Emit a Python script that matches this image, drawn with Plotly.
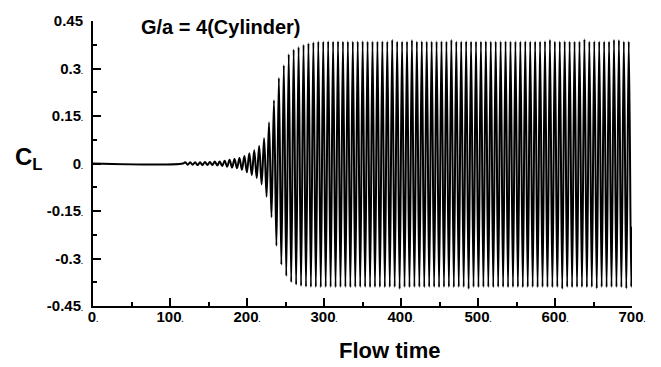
import numpy as np
import plotly.graph_objects as go

# ---------------- data ----------------
# Lift coefficient C_L: flat start, then successive extrema of the oscillation
flat_t = [0.0, 116.6]      # quiet start of the record
flat_cl = [0.0, 0.0]
EXTREMA_START = 119.8      # time of first visible extremum
HALF_PERIOD = 3.2
extrema_cl = [
    0.004, -0.004, 0.004, -0.004, 0.004, -0.005, 0.004, -0.005, 0.005, -0.005,
    0.005, -0.005, 0.006, -0.006, 0.006, -0.008, 0.009, -0.010, 0.012, -0.013,
    0.014, -0.015, 0.017, -0.020, 0.024, -0.028, 0.032, -0.037, 0.042, -0.046,
    0.055, -0.066, 0.080, -0.105, 0.130, -0.170, 0.200, -0.260, 0.270, -0.320,
    0.310, -0.355, 0.345, -0.375, 0.360, -0.383, 0.368, -0.387, 0.375, -0.389,
    0.380, -0.390, 0.383, -0.390, 0.385, -0.391, 0.385, -0.390, 0.386, -0.390,
    0.385, -0.391, 0.386, -0.390, 0.385, -0.390, 0.385, -0.391, 0.385, -0.390,
    0.385, -0.390, 0.386, -0.390, 0.385, -0.391, 0.385, -0.390, 0.385, -0.390,
    0.386, -0.391, 0.385, -0.390, 0.391, -0.390, 0.385, -0.396, 0.385, -0.390,
    0.385, -0.391, 0.390, -0.390, 0.385, -0.390, 0.386, -0.391, 0.385, -0.390,
    0.385, -0.390, 0.385, -0.391, 0.386, -0.390, 0.385, -0.390, 0.391, -0.391,
    0.385, -0.390, 0.385, -0.390, 0.386, -0.396, 0.385, -0.390, 0.385, -0.391,
    0.385, -0.390, 0.386, -0.390, 0.385, -0.391, 0.385, -0.390, 0.385, -0.390,
    0.386, -0.391, 0.385, -0.390, 0.385, -0.390, 0.385, -0.391, 0.386, -0.390,
    0.385, -0.390, 0.385, -0.391, 0.385, -0.390, 0.386, -0.390, 0.391, -0.391,
    0.385, -0.390, 0.385, -0.396, 0.386, -0.390, 0.385, -0.391, 0.385, -0.390,
    0.385, -0.390, 0.392, -0.391, 0.385, -0.390, 0.386, -0.395, 0.385, -0.390,
    0.385, -0.391, 0.385, -0.390, 0.391, -0.390, 0.390, -0.391, 0.385, -0.395,
    0.385, -0.390,
]
end_t, end_cl = 700.0, -0.20

x_tick_values = [0, 100, 200, 300, 400, 500, 600, 700]
x_tick_labels = ["0", "100", "200", "300", "400", "500", "600", "700"]
y_tick_values = [-0.45, -0.3, -0.15, 0, 0.15, 0.3, 0.45]
y_tick_labels = ["-0.45", "-0.3", "-0.15", "0", "0.15", "0.3", "0.45"]

title_text = "G/a = 4(Cylinder)"
x_title = "Flow time"
y_title = "C<sub>L</sub>"

# ---------------- build series ----------------
extrema_t = EXTREMA_START + HALF_PERIOD * np.arange(len(extrema_cl))
t = np.concatenate([flat_t, extrema_t, [end_t]])
cl = np.concatenate([flat_cl, extrema_cl, [end_cl]])

FONT = "Arial, Liberation Sans, Helvetica, sans-serif"
dot = '<span style="font-size:7px">.</span>'

fig = go.Figure()
fig.add_trace(go.Scatter(
    x=t, y=cl, mode="lines",
    line=dict(color="black", width=2, shape="spline", smoothing=1),
    hoverinfo="skip",
))

tickfont = dict(family=FONT, size=15, color="black", weight="bold")

fig.update_layout(
    width=661, height=367,
    margin=dict(l=93, r=29, t=18, b=61),
    plot_bgcolor="white", paper_bgcolor="white",
    showlegend=False,
    xaxis=dict(
        range=[0, 700], showgrid=False, zeroline=False,
        showline=True, linecolor="black", linewidth=2,
        tickmode="array", tickvals=x_tick_values,
        ticktext=[s + dot for s in x_tick_labels],
        ticks="inside", ticklen=8, tickwidth=2, tickcolor="black",
        minor=dict(ticks="inside", ticklen=4, tickwidth=1.5, tickcolor="black",
                   dtick=50, tick0=0, showgrid=False),
        tickfont=tickfont, ticklabelstandoff=-4,
    ),
    yaxis=dict(
        range=[-0.45, 0.45], showgrid=False, zeroline=False,
        showline=True, linecolor="black", linewidth=2,
        tickmode="array", tickvals=y_tick_values,
        ticktext=[s + (dot if s != "0.45" else "") for s in y_tick_labels],
        ticks="inside", ticklen=8, tickwidth=2, tickcolor="black",
        minor=dict(ticks="inside", ticklen=4, tickwidth=1.5, tickcolor="black",
                   dtick=0.075, tick0=0, showgrid=False),
        tickfont=tickfont, ticklabelstandoff=5,
    ),
    annotations=[
        dict(text=title_text, xref="paper", yref="paper", x=0.2375, y=0.979,
             xanchor="center", yanchor="middle", showarrow=False,
             font=dict(family=FONT, size=20, color="black", weight="bold")),
        dict(text=x_title, xref="paper", yref="paper", x=0.551, y=-0.156,
             xanchor="center", yanchor="middle", showarrow=False,
             font=dict(family=FONT, size=22, color="black", weight="bold")),
        dict(text=y_title, xref="paper", yref="paper", x=-0.148, y=0.517,
             xanchor="left", yanchor="middle", showarrow=False,
             font=dict(family=FONT, size=24, color="black", weight="bold")),
    ],
)

fig.write_html("out.html")
